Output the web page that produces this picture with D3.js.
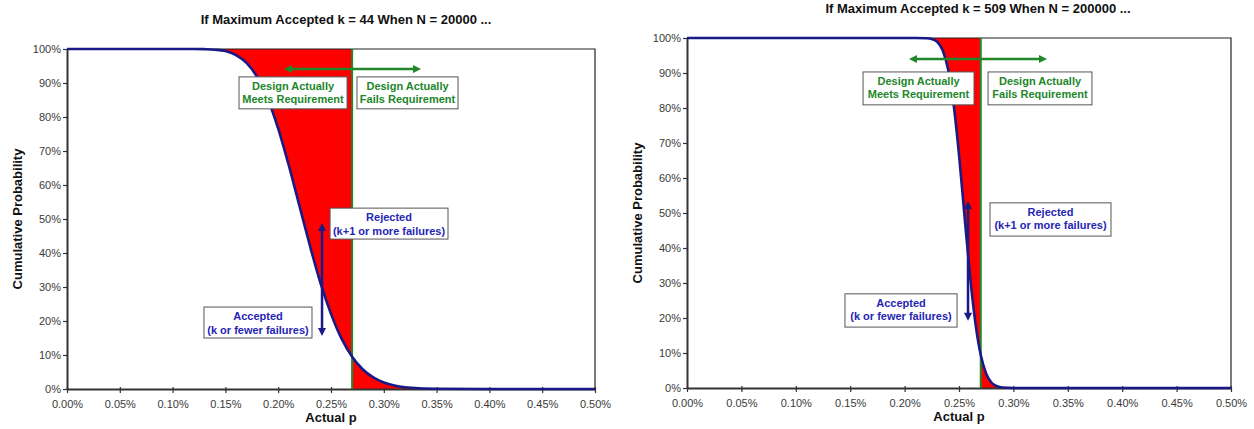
<!DOCTYPE html>
<html>
<head>
<meta charset="utf-8">
<script src="https://cdn.jsdelivr.net/npm/d3@7"></script>
<style>
  body { margin: 0; background: #fff; }
  svg text { font-family: "Liberation Sans", Arial, sans-serif; }
</style>
</head>
<body>
<div id="chart"></div>
<script>
// values (actual p in %, cumulative probability 0..1)
const leftP = [0, 0.05, 0.10, 0.12, 0.13, 0.14, 0.15, 0.16, 0.17, 0.18, 0.19, 0.20, 0.21, 0.22, 0.23, 0.24,
  0.25, 0.26, 0.27, 0.28, 0.29, 0.30, 0.31, 0.32, 0.33, 0.34, 0.35, 0.40, 0.45, 0.50];
const leftCum = [1, 1, 1, 1, 0.9995, 0.998, 0.994, 0.982, 0.959, 0.918, 0.854, 0.766, 0.658, 0.540, 0.422, 0.312,
  0.221, 0.148, 0.095, 0.058, 0.034, 0.019, 0.010, 0.005, 0.003, 0.001, 0.0006, 0, 0, 0];

const rightP = [0, 0.05, 0.10, 0.15, 0.20, 0.21, 0.22, 0.225, 0.23, 0.235, 0.24, 0.245, 0.25, 0.255, 0.26,
  0.265, 0.27, 0.275, 0.28, 0.285, 0.29, 0.30, 0.35, 0.40, 0.45, 0.50];
const rightCum = [1, 1, 1, 1, 1, 1, 0.9994, 0.997, 0.989, 0.965, 0.910, 0.811, 0.667, 0.494, 0.325,
  0.187, 0.094, 0.041, 0.015, 0.005, 0.0014, 0, 0, 0, 0, 0];

const xTicks = [0, 0.05, 0.10, 0.15, 0.20, 0.25, 0.30, 0.35, 0.40, 0.45, 0.50];
const yTicks = [0, 0.1, 0.2, 0.3, 0.4, 0.5, 0.6, 0.7, 0.8, 0.9, 1];
const requirementP = 0.27;

const charts = [
  {
    title: "If Maximum Accepted k = 44 When N = 20000 ...",
    p: leftP, cum: leftCum,
    box: { left: 67, right: 595, top: 49, bottom: 389 },
    titleX: 346, titleY: 24,
    notes: {
      greenArrow: [0.2045, 0.3362, 0.941],
      meets: [0.1629, 0.2652, 0.918, 0.824],
      fails: [0.2746, 0.3703, 0.918, 0.824],
      rejected: [0.2491, 0.3608, 0.532, 0.441],
      accepted: [0.1297, 0.2320, 0.241, 0.150],
      blueArrow: [0.2415, 0.491, 0.153]
    }
  },
  {
    title: "If Maximum Accepted k = 509 When N = 200000 ...",
    p: rightP, cum: rightCum,
    box: { left: 687, right: 1231, top: 38, bottom: 388 },
    titleX: 978, titleY: 13,
    notes: {
      greenArrow: [0.2031, 0.3318, 0.94],
      meets: [0.1618, 0.2638, 0.903, 0.809],
      fails: [0.2767, 0.3722, 0.903, 0.809],
      rejected: [0.2785, 0.3897, 0.529, 0.434],
      accepted: [0.1452, 0.2482, 0.269, 0.174],
      blueArrow: [0.2583, 0.537, 0.189]
    }
  }
];

const width = 1254, height = 429;
const svg = d3.select("#chart").append("svg")
  .attr("width", width)
  .attr("height", height);

const green = "#22862a", navy = "#1a1a86", blueText = "#2626b4";

const defs = svg.append("defs");
function marker(id, color) {
  defs.append("marker")
    .attr("id", id)
    .attr("viewBox", "0 0 10 10")
    .attr("refX", 5).attr("refY", 5)
    .attr("markerWidth", 4).attr("markerHeight", 3.2)
    .attr("orient", "auto-start-reverse")
    .attr("markerUnits", "strokeWidth")
    .append("path")
    .attr("d", "M0,0 L10,5 L0,10 Z")
    .attr("fill", color);
}
marker("gHead", green);
marker("bHead", navy);

charts.forEach(c => {
  const x = d3.scaleLinear().domain([0, 0.5]).range([c.box.left, c.box.right]);
  const y = d3.scaleLinear().domain([0, 1]).range([c.box.bottom, c.box.top]);
  const g = svg.append("g");
  const pts = c.p.map((p, i) => ({ p, v: c.cum[i] }));

  // red region: rejected but good (left of requirement), accepted but bad (right)
  const before = pts.filter(d => d.p <= requirementP);
  const after = pts.filter(d => d.p >= requirementP);
  const areaTop = d3.area().x(d => x(d.p)).y0(y(1)).y1(d => y(d.v)).curve(d3.curveMonotoneX);
  const areaBottom = d3.area().x(d => x(d.p)).y0(y(0)).y1(d => y(d.v)).curve(d3.curveMonotoneX);
  g.append("path").datum(before).attr("d", areaTop).attr("fill", "#ff0000");
  g.append("path").datum(after).attr("d", areaBottom).attr("fill", "#ff0000");

  // plot border (top + right)
  g.append("path")
    .attr("d", `M${c.box.left},${c.box.top}H${c.box.right}V${c.box.bottom}`)
    .attr("fill", "none").attr("stroke", "#222").attr("stroke-width", 1.2);

  // axes
  const xAxis = g.append("g")
    .attr("transform", `translate(0,${c.box.bottom})`)
    .call(d3.axisBottom(x).tickValues(xTicks).tickSize(4).tickSizeOuter(0)
      .tickFormat(d => d.toFixed(2) + "%"));
  const yAxis = g.append("g")
    .attr("transform", `translate(${c.box.left},0)`)
    .call(d3.axisLeft(y).tickValues(yTicks).tickSize(4).tickSizeOuter(0)
      .tickFormat(d => Math.round(d * 100) + "%"));
  [xAxis, yAxis].forEach(a => {
    a.select(".domain").attr("stroke", "#333").attr("stroke-width", 2);
    a.selectAll(".tick line").attr("stroke", "#333").attr("stroke-width", 1.2);
    a.selectAll(".tick text").attr("fill", "#3a3a3a").style("font-size", "11px");
  });
  xAxis.selectAll(".tick line").attr("y1", -2);
  xAxis.selectAll(".tick text").attr("dy", "1.05em");
  yAxis.selectAll(".tick text").attr("x", -6);

  // requirement line
  g.append("line")
    .attr("x1", x(requirementP)).attr("x2", x(requirementP))
    .attr("y1", y(0)).attr("y2", y(1))
    .attr("stroke", green).attr("stroke-width", 2);

  // cumulative curve
  g.append("path").datum(pts)
    .attr("d", d3.line().x(d => x(d.p)).y(d => y(d.v)).curve(d3.curveMonotoneX))
    .attr("fill", "none").attr("stroke", navy).attr("stroke-width", 2.6);

  // titles
  g.append("text")
    .attr("x", c.titleX).attr("y", c.titleY)
    .attr("text-anchor", "middle")
    .style("font-size", "13px").style("font-weight", "bold").attr("fill", "#111")
    .text(c.title);
  g.append("text")
    .attr("x", (c.box.left + c.box.right) / 2).attr("y", c.box.bottom + 33)
    .attr("text-anchor", "middle")
    .style("font-size", "13px").style("font-weight", "bold").attr("fill", "#111")
    .text("Actual p");
  g.append("text")
    .attr("transform", `translate(${c.box.left - 45},${(c.box.top + c.box.bottom) / 2}) rotate(-90)`)
    .attr("text-anchor", "middle")
    .style("font-size", "13px").style("font-weight", "bold").attr("fill", "#111")
    .text("Cumulative Probability");

  // annotations
  const n = c.notes;
  g.append("line")
    .attr("x1", x(n.greenArrow[0]) + 5).attr("x2", x(n.greenArrow[1]) - 5)
    .attr("y1", y(n.greenArrow[2])).attr("y2", y(n.greenArrow[2]))
    .attr("stroke", green).attr("stroke-width", 2.5)
    .attr("marker-start", "url(#gHead)").attr("marker-end", "url(#gHead)");
  g.append("line")
    .attr("x1", x(n.blueArrow[0])).attr("x2", x(n.blueArrow[0]))
    .attr("y1", y(n.blueArrow[1]) + 5).attr("y2", y(n.blueArrow[2]) - 5)
    .attr("stroke", navy).attr("stroke-width", 2.5)
    .attr("marker-start", "url(#bHead)").attr("marker-end", "url(#bHead)");

  function noteBox(b, lines, color) {
    const x0 = x(b[0]), x1 = x(b[1]), y0 = y(b[2]), y1 = y(b[3]);
    g.append("rect")
      .attr("x", x0).attr("y", y0).attr("width", x1 - x0).attr("height", y1 - y0)
      .attr("fill", "#fff").attr("stroke", "#555").attr("stroke-width", 1);
    lines.forEach((t, i) => {
      g.append("text")
        .attr("x", (x0 + x1) / 2).attr("y", y0 + 13 + i * 13.5)
        .attr("text-anchor", "middle")
        .style("font-size", "11px").style("font-weight", "bold").attr("fill", color)
        .text(t);
    });
  }
  noteBox(n.meets, ["Design Actually", "Meets Requirement"], green);
  noteBox(n.fails, ["Design Actually", "Fails Requirement"], green);
  noteBox(n.rejected, ["Rejected", "(k+1 or more failures)"], blueText);
  noteBox(n.accepted, ["Accepted", "(k or fewer failures)"], blueText);
});
</script>
</body>
</html>
